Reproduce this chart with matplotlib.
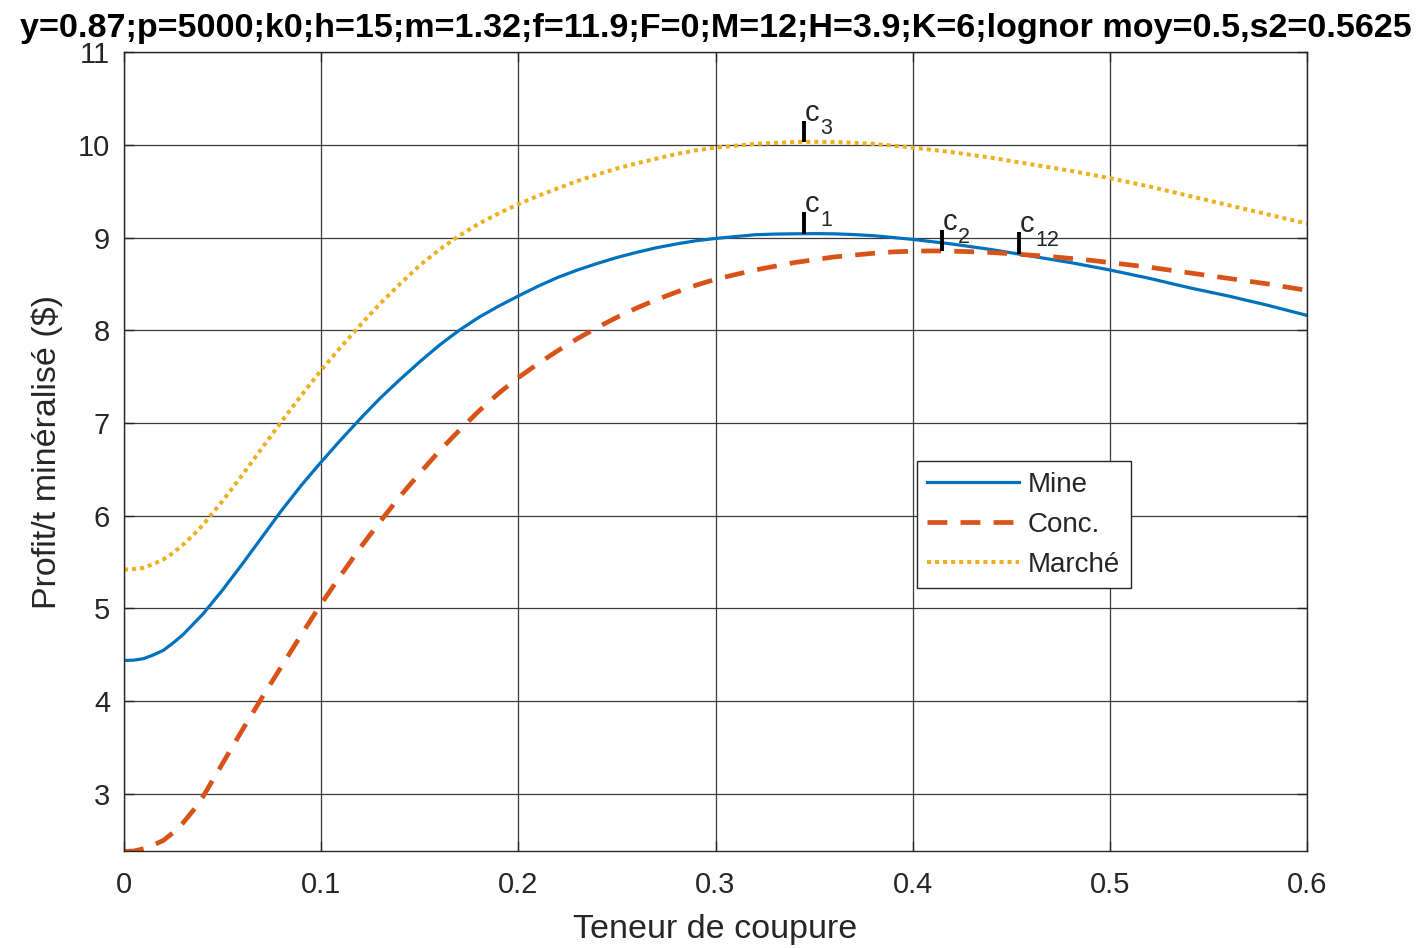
import matplotlib
matplotlib.use("Agg")
import matplotlib.pyplot as plt

plt.rcParams['font.family'] = ['Liberation Sans', 'DejaVu Sans']

# teneur de coupure
x = [0.00, 0.005, 0.01, 0.015, 0.02, 0.025, 0.03, 0.035, 0.04, 0.045, 0.05,
     0.06, 0.07, 0.08, 0.09, 0.10, 0.11, 0.12, 0.13, 0.14, 0.15,
     0.16, 0.17, 0.18, 0.19, 0.20, 0.21, 0.22, 0.23, 0.24, 0.25,
     0.26, 0.27, 0.28, 0.29, 0.30, 0.31, 0.32, 0.33, 0.34, 0.35,
     0.36, 0.37, 0.38, 0.39, 0.40, 0.41, 0.42, 0.43, 0.44, 0.45,
     0.46, 0.47, 0.48, 0.49, 0.50, 0.51, 0.52, 0.53, 0.54, 0.55,
     0.56, 0.57, 0.58, 0.59, 0.60]

mine = [4.44, 4.443, 4.46, 4.50, 4.55, 4.63, 4.72, 4.83, 4.94, 5.07, 5.20,
        5.48, 5.77, 6.06, 6.33, 6.58, 6.82, 7.05, 7.27, 7.47, 7.66,
        7.84, 8.00, 8.14, 8.26, 8.37, 8.475, 8.57, 8.65, 8.72, 8.785,
        8.84, 8.89, 8.93, 8.965, 8.99, 9.01, 9.03, 9.037, 9.04, 9.042,
        9.04, 9.032, 9.02, 9.00, 8.98, 8.955, 8.93, 8.90, 8.87, 8.835,
        8.80, 8.765, 8.73, 8.69, 8.65, 8.605, 8.56, 8.51, 8.46, 8.415,
        8.37, 8.32, 8.27, 8.215, 8.16]

conc = [2.38, 2.385, 2.41, 2.45, 2.50, 2.585, 2.69, 2.82, 2.97, 3.15, 3.33,
        3.69, 4.04, 4.38, 4.72, 5.05, 5.36, 5.66, 5.94, 6.21, 6.46,
        6.70, 6.92, 7.13, 7.32, 7.49, 7.64, 7.78, 7.91, 8.03, 8.14,
        8.24, 8.33, 8.41, 8.485, 8.55, 8.60, 8.65, 8.69, 8.73, 8.76,
        8.79, 8.81, 8.83, 8.845, 8.853, 8.856, 8.853, 8.847, 8.838, 8.825,
        8.81, 8.795, 8.775, 8.755, 8.73, 8.705, 8.68, 8.65, 8.62, 8.59,
        8.56, 8.53, 8.50, 8.465, 8.43]

marche = [5.42, 5.425, 5.44, 5.48, 5.53, 5.60, 5.69, 5.79, 5.90, 6.03, 6.16,
          6.44, 6.73, 7.02, 7.30, 7.57, 7.82, 8.06, 8.29, 8.50, 8.70,
          8.87, 9.02, 9.15, 9.26, 9.36, 9.45, 9.53, 9.61, 9.68, 9.745,
          9.80, 9.85, 9.90, 9.94, 9.97, 9.99, 10.01, 10.02, 10.03, 10.032,
          10.03, 10.022, 10.01, 9.99, 9.97, 9.945, 9.92, 9.89, 9.86, 9.825,
          9.79, 9.755, 9.72, 9.68, 9.64, 9.595, 9.55, 9.50, 9.45, 9.40,
          9.35, 9.30, 9.25, 9.20, 9.15]

# teneurs optimales (c1, c2, c3, c12) et profit correspondant
c_noms = ['1', '2', '3', '12']
c_x = [0.345, 0.415, 0.345, 0.454]
c_y = [9.04, 8.855, 10.03, 8.825]

fig = plt.figure(figsize=(14.19, 9.48), dpi=100)
ax = fig.add_axes([0.0874, 0.1023, 0.8337, 0.8428])

ax.plot(x, mine, color='#0072BD', lw=2.3, label='Mine')
ax.plot(x, conc, color='#D95319', lw=3.4, dashes=(4.2, 2.8), label='Conc.')
ax.plot(x, marche, color='#EDB120', lw=2.9, dashes=(1.0, 1.0),
        dash_capstyle='butt', label='Marché')

for nom, cx, cy in zip(c_noms, c_x, c_y):
    ytop = cy + 0.23
    ax.plot([cx, cx], [cy, ytop], color='black', lw=2.8, solid_capstyle='butt')
    ax.annotate('c', xy=(cx, ytop), xytext=(0.5, 0), textcoords='offset points',
                fontsize=21, color='#262626', ha='left', va='baseline')
    ax.annotate(nom, xy=(cx, ytop), xytext=(11.5, -9.5), textcoords='offset points',
                fontsize=15.5, color='#262626', ha='left', va='baseline')

ax.set_xlim(0, 0.6)
ax.set_ylim(2.385, 11)
ax.set_xticks([0, 0.1, 0.2, 0.3, 0.4, 0.5, 0.6])
ax.set_xticklabels(['0', '0.1', '0.2', '0.3', '0.4', '0.5', '0.6'])
ax.set_yticks([3, 4, 5, 6, 7, 8, 9, 10, 11])

ax.grid(True, color='#262626', lw=0.9, alpha=0.9)
for s in ax.spines.values():
    s.set_color('#262626')
    s.set_linewidth(1.0)
ax.tick_params(direction='in', length=7, width=1.0, color='#262626',
               labelsize=21, labelcolor='#262626', top=True, right=True)
ax.tick_params(axis='x', pad=14.5)
ax.tick_params(axis='y', pad=10)

ax.set_xlabel('Teneur de coupure', fontsize=24.5, color='#262626', labelpad=11)
ax.set_ylabel('Profit/t minéralisé ($)', fontsize=24.5, color='#262626', labelpad=11)
ax.set_title('y=0.87;p=5000;k0;h=15;m=1.32;f=11.9;F=0;M=12;H=3.9;K=6;lognor moy=0.5,s2=0.5625',
             fontsize=24.6, fontweight='bold', pad=11)

leg = ax.legend(loc='lower left', bbox_to_anchor=(0.670, 0.329), borderaxespad=0,
                fontsize=20, handlelength=3.3, handletextpad=0.32, labelspacing=0.5,
                borderpad=0.38, fancybox=False, framealpha=1)
leg.get_frame().set_edgecolor('#262626')
leg.get_frame().set_linewidth(1.0)
for t in leg.get_texts():
    t.set_color('#262626')

fig.savefig('out.png', dpi=100)
